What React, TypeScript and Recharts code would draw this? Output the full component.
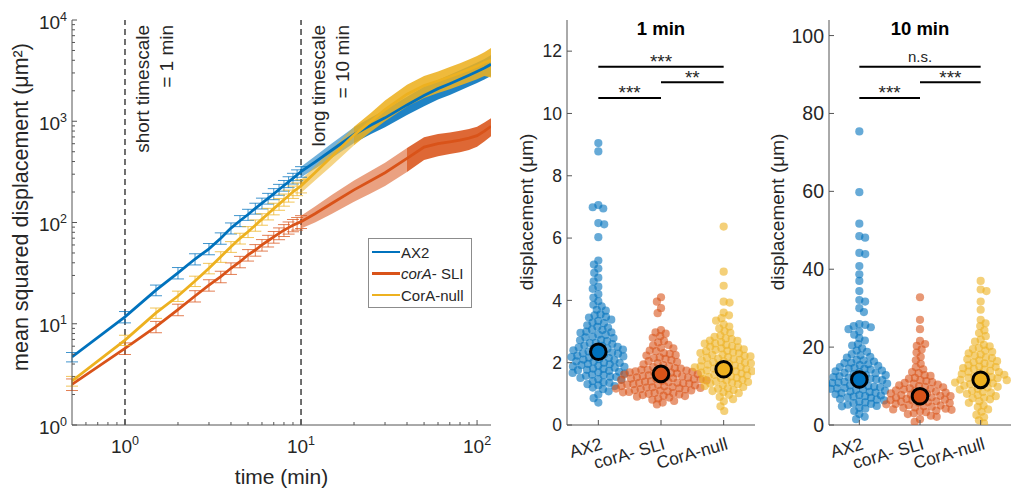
import React from 'react';
import {
  ComposedChart, ScatterChart, Line, Area, Scatter, XAxis, YAxis, ErrorBar,
  ReferenceLine, ReferenceDot, Legend,
} from 'recharts';

const FONT = '"Liberation Sans", Arial, Helvetica, sans-serif';
const TXT = '#262626';
const AXC = '#555555';
const BLUE = '#0072BD';
const RED = '#D95319';
const YEL = '#EDB120';
const seriesColors = [BLUE, RED, YEL];
const seriesRgb = ['0,114,189', '217,83,25', '237,177,32'];

// ---------------- MSD panel (log-log) ----------------
const msdTimes = [0.5, 1, 1.5, 2, 2.5, 3, 3.5, 4, 4.5, 5, 5.5, 6, 6.5, 7, 7.5, 8, 8.5, 9, 9.5, 10,
  12, 15, 20, 25, 30, 40, 50, 60, 70, 80, 90, 100, 110, 120];
const ax2Msd = [4.7, 11.7, 21.5, 31.8, 43.6, 55, 70, 88, 104, 120, 138, 155, 173, 192, 212, 232, 252, 273, 295, 318,
  395, 520, 740, 920, 1080, 1450, 1800, 2100, 2350, 2600, 2850, 3100, 3350, 3650];
const ax2Sem = [0.5, 1.5, 2.6, 4.1, 5.5, 7, 9, 11, 13, 15, 17, 19, 21, 24, 26, 28, 31, 33, 36, 38,
  55, 85, 130, 170, 210, 300, 390, 460, 530, 590, 650, 710, 770, 850];
const sliMsd = [2.52, 5.72, 9.35, 13.8, 18.8, 24.1, 29.2, 35.3, 41, 47.8, 53.5, 60, 66, 72, 78, 84, 89, 94, 98, 102,
  122, 155, 210, 260, 310, 430, 555, 600, 625, 650, 680, 720, 800, 890];
const sliSem = [0.33, 0.75, 1.2, 1.8, 2.4, 3.1, 3.8, 4.6, 5.3, 6.2, 7, 7.8, 8.7, 9.5, 10.4, 11.3, 12.2, 13, 13.9, 14.8,
  22, 33, 50, 65, 80, 115, 140, 150, 150, 155, 160, 160, 170, 180];
const nullMsd = [2.72, 6.9, 12.8, 18.8, 26.4, 35.3, 45.9, 57.7, 69.8, 81, 94, 108, 122, 137, 152, 168, 184, 201, 215, 230,
  310, 450, 730, 1000, 1300, 1850, 2250, 2500, 2750, 3000, 3250, 3500, 3800, 4000];
const nullSem = [0.3, 0.8, 1.5, 2.2, 3.1, 4.2, 5.5, 7, 8.5, 10, 12, 14, 16, 18, 20, 23, 25, 28, 31, 34,
  50, 85, 150, 210, 300, 450, 550, 600, 680, 750, 820, 900, 1000, 1300];
// time from which the dense error bars merge into a solid band
const solidFrom = [20, 40, 20];

const msdSeries = [
  { key: 'ax2', mean: ax2Msd, sem: ax2Sem },
  { key: 'sli', mean: sliMsd, sem: sliSem },
  { key: 'nul', mean: nullMsd, sem: nullSem },
];
const legendLabels = ['AX2', 'corA- SLI', 'CorA-null'];
const timescaleLines = [
  { t: 1, text: ['short timescale', '= 1 min'] },
  { t: 10, text: ['long timescale', '= 10 min'] },
];

const msdDecades = [1, 10, 100, 1000];
const msdMult = [1, 2, 3, 4, 5, 6, 7, 8, 9];
const msdYTicks = [...msdDecades.flatMap((d) => msdMult.map((m) => m * d)), 10000];
const msdXTicks = [0.6, 0.7, 0.8, 0.9, ...[1, 10].flatMap((d) => msdMult.map((m) => m * d)), 100];

const msdRows = msdTimes.map((t, i) => {
  const row: any = { t };
  msdSeries.forEach((s, k) => {
    const lo = s.mean[i] - s.sem[i];
    const hi = s.mean[i] + s.sem[i];
    row[s.key] = s.mean[i];
    row[s.key + 'Err'] = t <= 10 ? s.sem[i] : undefined;
    row[s.key + 'Light'] = t >= 10 && t <= solidFrom[k] ? [lo, hi] : null;
    row[s.key + 'Solid'] = t >= solidFrom[k] ? [lo, hi] : null;
  });
  return row;
});

// ---------------- swarm panels ----------------
const swarmCats = ['AX2', 'corA- SLI', 'CorA-null'];

const ax2OneMin = [9.05, 8.78, 7.06, 6.99, 6.95, 6.48, 6.44, 6.03, 5.28, 5.15, 5.02, 4.88, 4.73, 4.61, 4.44, 4.37, 4.2, 4.09,
  3.97, 3.86, 3.81, 3.7, 3.67, 3.55, 3.52, 3.47, 3.45, 3.38, 3.34, 3.29, 3.27, 3.2, 3.15, 3.13, 3.06, 3.05, 3.0,
  2.97, 2.96, 2.9, 2.89, 2.83, 2.81, 2.79, 2.73, 2.72, 2.69, 2.64, 2.63, 2.6, 2.55, 2.54, 2.51, 2.49, 2.46, 2.45,
  2.42, 2.4, 2.37, 2.36, 2.33, 2.3, 2.29, 2.27, 2.24, 2.23, 2.2, 2.18, 2.16, 2.15, 2.11, 2.1, 2.08, 2.04, 2.03,
  2.0, 1.99, 1.96, 1.95, 1.92, 1.9, 1.88, 1.87, 1.84, 1.81, 1.8, 1.77, 1.76, 1.74, 1.71, 1.69, 1.67, 1.65, 1.62,
  1.6, 1.58, 1.55, 1.54, 1.51, 1.47, 1.45, 1.41, 1.37, 1.35, 1.31, 1.27, 1.25, 1.2, 1.15, 1.08, 0.98, 0.86, 0.72];
const sliOneMin = [4.1, 3.96, 3.75, 3.59, 3.05, 2.97, 2.93, 2.85, 2.8, 2.7, 2.65, 2.57, 2.55, 2.48, 2.46, 2.39, 2.37,
  2.31, 2.28, 2.24, 2.23, 2.17, 2.15, 2.12, 2.08, 2.05, 2.02, 1.99, 1.95, 1.92, 1.89, 1.86, 1.83, 1.81,
  1.79, 1.78, 1.77, 1.75, 1.74, 1.72, 1.71, 1.69, 1.68, 1.66, 1.65, 1.63, 1.62, 1.61, 1.59, 1.57, 1.56,
  1.55, 1.53, 1.52, 1.5, 1.49, 1.48, 1.47, 1.46, 1.45, 1.43, 1.42, 1.4, 1.39, 1.37, 1.36, 1.35, 1.34, 1.33, 1.31,
  1.3, 1.28, 1.27, 1.25, 1.24, 1.22, 1.21, 1.2, 1.19, 1.18, 1.17, 1.15, 1.14, 1.12, 1.11, 1.1, 1.08, 1.06, 1.05,
  1.03, 1.02, 1.0, 0.98, 0.96, 0.94, 0.93, 0.91, 0.88, 0.85, 0.81, 0.77, 0.72, 0.66];
const nullOneMin = [6.37, 4.92, 4.47, 3.96, 3.93, 3.61, 3.52, 3.43, 3.35, 3.23, 3.16, 3.1, 3.01, 2.96, 2.87, 2.83, 2.78,
  2.76, 2.71, 2.7, 2.66, 2.62, 2.61, 2.57, 2.53, 2.51, 2.49, 2.46, 2.43, 2.41, 2.38, 2.37, 2.33, 2.31, 2.3, 2.26,
  2.25, 2.22, 2.2, 2.18, 2.16, 2.13, 2.11, 2.09, 2.07, 2.04, 2.02, 2.0, 1.98, 1.96, 1.94, 1.92, 1.91, 1.88, 1.86,
  1.85, 1.82, 1.81, 1.79, 1.77, 1.75, 1.73, 1.72, 1.69, 1.68, 1.65, 1.63, 1.61, 1.59, 1.56, 1.54, 1.51, 1.5, 1.47,
  1.45, 1.43, 1.4, 1.38, 1.36, 1.33, 1.31, 1.28, 1.25, 1.22, 1.18, 1.16, 1.12, 1.09, 1.05, 1.02, 0.97, 0.9, 0.83,
  0.76, 0.6, 0.45];
const ax2TenMin = [75.4, 59.8, 51.7, 48.5, 48.1, 44.2, 43.9, 40.8, 38.7, 37.0, 34.4, 32.1, 31.7, 30.0, 29.0, 25.9, 25.7,
  25.4, 25.1, 24.6, 24.0, 23.2, 22.3, 21.7, 20.8, 20.4, 19.7, 19.1, 18.8, 18.2, 17.9, 17.5, 17.3, 16.7, 16.6, 16.3,
  16.0, 15.9, 15.6, 15.4, 15.2, 14.9, 14.7, 14.5, 14.4, 14.2, 14.0, 13.8, 13.6, 13.4, 13.3, 13.0, 12.9, 12.8, 12.5,
  12.3, 12.2, 12.0, 11.9, 11.7, 11.5, 11.4, 11.2, 11.1, 10.9, 10.8, 10.6, 10.5, 10.3, 10.2, 10.0, 9.8, 9.7, 9.5,
  9.4, 9.3, 9.1, 9.0, 8.8, 8.6, 8.5, 8.3, 8.2, 7.9, 7.7, 7.6, 7.4, 7.3, 7.1, 7.0, 6.7, 6.5, 6.3, 6.0, 5.8, 5.6, 5.4,
  5.2, 4.9, 4.8, 4.4, 4.2, 3.6, 2.8, 2.1, 1.5];
const sliTenMin = [32.8, 27.0, 24.6, 21.6, 20.8, 20.3, 19.4, 18.6, 17.5, 16.6, 15.7, 14.8, 14.3, 13.6, 13.3, 12.8, 12.6,
  12.1, 11.9, 11.5, 11.3, 11.0, 10.8, 10.6, 10.4, 10.2, 10.0, 9.8, 9.7, 9.4, 9.3, 9.1, 8.9, 8.8, 8.6, 8.4, 8.3, 8.1,
  8.0, 7.8, 7.7, 7.5, 7.4, 7.2, 7.1, 7.0, 6.8, 6.7, 6.5, 6.4, 6.3, 6.1, 6.0, 5.9, 5.7, 5.6, 5.4, 5.3, 5.1, 5.0, 4.8,
  4.7, 4.5, 4.4, 4.2, 4.0, 3.9, 3.7, 3.5, 3.3, 3.0, 2.8, 2.4, 2.1, 1.5, 0.8];
const nullTenMin = [37.0, 34.8, 34.4, 31.7, 29.6, 27.0, 26.1, 25.4, 24.3, 23.6, 22.8, 21.9, 21.4, 20.6, 20.2, 19.8, 19.5,
  19.1, 18.8, 18.4, 18.1, 17.8, 17.4, 17.2, 16.9, 16.6, 16.4, 16.1, 15.8, 15.6, 15.3, 15.0, 14.9, 14.6, 14.4, 14.2,
  13.9, 13.7, 13.6, 13.3, 13.1, 12.9, 12.7, 12.5, 12.3, 12.1, 12.0, 11.8, 11.6, 11.5, 11.2, 11.0, 10.9, 10.7, 10.5,
  10.3, 10.1, 9.8, 9.6, 9.3, 9.1, 8.8, 8.5, 8.3, 8.0, 7.7, 7.4, 7.0, 6.9, 6.6, 6.1, 5.7, 5.0, 4.6, 4.0, 3.4, 2.6,
  2.0, 1.2, 0.4];

const oneMinMeans = [2.35, 1.64, 1.79];
const tenMinMeans = [11.7, 7.4, 11.6];
const oneMinSig = [
  { from: 1, to: 2, y: 10.5, label: '***' },
  { from: 2, to: 3, y: 11.0, label: '**' },
  { from: 1, to: 3, y: 11.5, label: '***' },
];
const tenMinSig = [
  { from: 1, to: 2, y: 84, label: '***' },
  { from: 2, to: 3, y: 88, label: '***' },
  { from: 1, to: 3, y: 92, label: 'n.s.' },
];
const oneMinTicks = [0, 2, 4, 6, 8, 10, 12];
const tenMinTicks = [0, 20, 40, 60, 80, 100];

// ---------------- layout ----------------
const H = 491;
const PLOT_TOP = 20;
const PLOT_BOTTOM = 425;
const MSD_LEFT = 72;
const MSD_RIGHT = 491;
const SWARM_D = 6;

const isMajor = (v: number) => Math.abs(Math.log10(v) - Math.round(Math.log10(v))) < 1e-9;

function beeswarm(values: number[], pxPerY: number, d: number): number[] {
  const pts: { x: number; y: number }[] = [];
  return values.map((v, i) => {
    const y = v * pxPerY;
    const near = pts.filter((p) => Math.abs(p.y - y) < d);
    const cands = [0];
    near.forEach((p) => {
      const w = Math.sqrt(d * d - (p.y - y) * (p.y - y));
      cands.push(p.x + w, p.x - w);
    });
    const sgn = i % 2 === 0 ? 1 : -1;
    cands.sort((a, b) => Math.abs(a) - Math.abs(b) || sgn * (b - a));
    let x = 0;
    for (const c of cands) {
      if (near.every((p) => (p.x - c) * (p.x - c) + (p.y - y) * (p.y - y) >= d * d - 1e-6)) { x = c; break; }
    }
    pts.push({ x, y });
    return x;
  });
}

const MsdYTick = (p: any) => {
  const v = p.payload.value;
  const y = p.y;
  const major = isMajor(v);
  return (
    <g>
      <line x1={MSD_LEFT} x2={MSD_LEFT + (major ? 5 : 3)} y1={y} y2={y} stroke={AXC} />
      {major && (
        <text x={MSD_LEFT - 5} y={y + 8.5} textAnchor="end" fontSize={19} fill={TXT} fontFamily={FONT}>
          10<tspan dy={-8} fontSize={12.5}>{Math.round(Math.log10(v))}</tspan>
        </text>
      )}
    </g>
  );
};

const MsdXTick = (p: any) => {
  const v = p.payload.value;
  const x = p.x;
  const major = isMajor(v);
  return (
    <g>
      <line x1={x} x2={x} y1={PLOT_BOTTOM} y2={PLOT_BOTTOM - (major ? 5 : 3)} stroke={AXC} />
      {major && (
        <text x={x} y={453} textAnchor="middle" fontSize={19} fill={TXT} fontFamily={FONT}>
          10<tspan dy={-8} fontSize={12.5}>{Math.round(Math.log10(v))}</tspan>
        </text>
      )}
    </g>
  );
};

const TimescaleLabel = (lines: string[]) => (p: any) => {
  const vb = p.viewBox || {};
  return (
    <g>
      {lines.map((s, i) => (
        <text key={i} transform={`translate(${vb.x + 24 * (i + 1)}, ${vb.y + 5}) rotate(-90)`}
          textAnchor="end" fontSize={19} fill={TXT} fontFamily={FONT}>{s}</text>
      ))}
    </g>
  );
};

const LegendBox = () => (
  <div style={{
    position: 'relative', width: 104, height: 70, border: '1px solid #8c8c8c', background: '#fff',
    boxSizing: 'border-box', fontFamily: FONT, fontSize: 15, color: TXT,
  }}>
    {legendLabels.map((lab, i) => (
      <div key={i} style={{
        position: 'absolute', left: 3, top: 13 + 21.6 * i - 10, height: 20,
        display: 'flex', alignItems: 'center', whiteSpace: 'nowrap',
      }}>
        <span style={{ display: 'inline-block', width: 28, height: 2.5, background: seriesColors[i] }} />
        <span style={{ marginLeft: 1 }}>
          {i === 1 ? (<><i>corA</i>- SLI</>) : lab}
        </span>
      </div>
    ))}
  </div>
);

function MsdPanel() {
  return (
    <ComposedChart width={520} height={H} data={msdRows}
      margin={{ top: PLOT_TOP, right: 520 - MSD_RIGHT, bottom: 0, left: 0 }}>
      <XAxis dataKey="t" type="number" scale="log" domain={[0.5, 120]} allowDataOverflow ticks={msdXTicks}
        interval={0} height={H - PLOT_BOTTOM} tickLine={false} axisLine={{ stroke: AXC }} tick={MsdXTick}
        label={(lp: any) => (
          <text x={(MSD_LEFT + MSD_RIGHT) / 2} y={484} textAnchor="middle" fontSize={21} fill={TXT} fontFamily={FONT}>
            time (min)
          </text>
        )} />
      <YAxis type="number" scale="log" domain={[1, 10000]} allowDataOverflow ticks={msdYTicks} interval={0}
        width={MSD_LEFT} tickLine={false} axisLine={{ stroke: AXC }} tick={MsdYTick}
        label={(lp: any) => (
          <text transform={`translate(28, 207) rotate(-90)`} textAnchor="middle" fontSize={21.5} fill={TXT} fontFamily={FONT}>
            mean squared displacement (μm²)
          </text>
        )} />
      {timescaleLines.map((tl) => (
        <ReferenceLine key={tl.t} x={tl.t} stroke="#404040" strokeWidth={1.5} strokeDasharray="6 4"
          label={TimescaleLabel(tl.text)} />
      ))}
      {msdSeries.flatMap((s, i) => [
        <Area key={s.key + 'light'} dataKey={s.key + 'Light'} type="linear" stroke="none" fill={seriesColors[i]}
          fillOpacity={0.55} isAnimationActive={false} legendType="none" />,
        <Area key={s.key + 'solid'} dataKey={s.key + 'Solid'} type="linear" stroke="none" fill={seriesColors[i]}
          fillOpacity={0.88} isAnimationActive={false} legendType="none" />,
        <Line key={s.key + 'line'} dataKey={s.key} type="linear" stroke={seriesColors[i]} strokeWidth={2.8}
          dot={false} isAnimationActive={false}>
          <ErrorBar dataKey={s.key + 'Err'} width={6} strokeWidth={1} stroke={`rgba(${seriesRgb[i]},0.75)`} />
        </Line>,
      ])}
      <Legend layout="vertical" align="center" verticalAlign="middle" content={LegendBox}
        wrapperStyle={{ left: 368, top: 238, width: 104, height: 70 }} />
    </ComposedChart>
  );
}

const CatTick = (p: any) => {
  const x = p.x;
  const name = swarmCats[p.payload.value - 1];
  return (
    <g>
      <line x1={x} x2={x} y1={PLOT_BOTTOM} y2={PLOT_BOTTOM - 5} stroke={AXC} />
      <text transform={`translate(${x + 5}, 449) rotate(-16)`} textAnchor="end" fontSize={17.5} fill={TXT}
        fontFamily={FONT}>{name}</text>
    </g>
  );
};

type Sig = { from: number; to: number; y: number; label: string };

function SwarmPanel(props: {
  width: number; plotLeft: number; plotRight: number; yMax: number; yTicks: number[];
  values: number[][]; means: number[]; sig: Sig[]; title: string; tickFont: number; labelX: number;
}) {
  const { width, plotLeft, plotRight, yMax, yTicks, values, means, sig, title, tickFont, labelX } = props;
  const pxY = (PLOT_BOTTOM - PLOT_TOP) / yMax;
  const pxX = (plotRight - plotLeft) / 3;
  const sets = values.map((vals, g) => {
    const offs = beeswarm(vals, pxY, SWARM_D);
    return vals.map((v, i) => ({ x: g + 1 + offs[i] / pxX, y: v }));
  });
  const YTick = (p: any) => (
    <g>
      <line x1={plotLeft} x2={plotLeft + 5} y1={p.y} y2={p.y} stroke={AXC} />
      <text x={plotLeft - 5} y={p.y} dy="0.36em" textAnchor="end" fontSize={tickFont} fill={TXT}
        fontFamily={FONT}>{p.payload.value}</text>
    </g>
  );
  return (
    <ScatterChart width={width} height={H} margin={{ top: PLOT_TOP, right: width - plotRight, bottom: 0, left: 0 }}>
      <XAxis type="number" dataKey="x" domain={[0.5, 3.5]} allowDataOverflow ticks={[1, 2, 3]} interval={0}
        height={H - PLOT_BOTTOM} tickLine={false} axisLine={{ stroke: AXC }} tick={CatTick} />
      <YAxis type="number" dataKey="y" domain={[0, yMax]} allowDataOverflow ticks={yTicks} interval={0}
        width={plotLeft} tickLine={false} axisLine={{ stroke: AXC }} tick={YTick}
        label={(lp: any) => (
          <text transform={`translate(${labelX}, 212) rotate(-90)`} textAnchor="middle" fontSize={19} fill={TXT}
            fontFamily={FONT}>displacement (μm)</text>
        )} />
      {sets.map((pts, g) => (
        <Scatter key={'pts' + g} data={pts} isAnimationActive={false}
          shape={(sp: any) => <circle cx={sp.cx} cy={sp.cy} r={4.1} fill={seriesColors[g]} fillOpacity={0.6} />} />
      ))}
      {means.map((m, g) => (
        <Scatter key={'mean' + g} data={[{ x: g + 1, y: m }]} isAnimationActive={false}
          shape={(sp: any) => <circle cx={sp.cx} cy={sp.cy} r={7.8} fill={seriesColors[g]} stroke="#000" strokeWidth={3} />} />
      ))}
      {sig.map((s, i) => (
        <ReferenceLine key={'sl' + i} segment={[{ x: s.from, y: s.y }, { x: s.to, y: s.y }]} stroke="#000"
          strokeWidth={2} ifOverflow="visible" />
      ))}
      {sig.map((s, i) => (
        <ReferenceDot key={'st' + i} x={(s.from + s.to) / 2} y={s.y} r={0} ifOverflow="visible"
          shape={(dp: any) => (
            <text x={dp.cx} y={s.label === 'n.s.' ? dp.cy - 5 : dp.cy + 1.5} textAnchor="middle"
              fontSize={s.label === 'n.s.' ? 15 : 19} fill={TXT} fontFamily={FONT}>{s.label}</text>
          )} />
      ))}
      <ReferenceDot x={2} y={yMax} r={0} ifOverflow="visible"
        shape={(dp: any) => (
          <text x={dp.cx} y={dp.cy + 15} textAnchor="middle" fontSize={18.5} fontWeight="bold" fill="#000"
            fontFamily={FONT}>{title}</text>
        )} />
    </ScatterChart>
  );
}

export default function App() {
  return (
    <div style={{ position: 'absolute', left: 0, top: 0, width: 1015, height: H, background: '#fff', fontFamily: FONT }}>
      <div style={{ position: 'absolute', left: 0, top: 0 }}>
        <MsdPanel />
      </div>
      <div style={{ position: 'absolute', left: 505, top: 0 }}>
        <SwarmPanel width={265} plotLeft={62} plotRight={250} yMax={13} yTicks={oneMinTicks}
          values={[ax2OneMin, sliOneMin, nullOneMin]} means={oneMinMeans} sig={oneMinSig} title="1 min"
          tickFont={17.5} labelX={28} />
      </div>
      <div style={{ position: 'absolute', left: 760, top: 0 }}>
        <SwarmPanel width={255} plotLeft={69} plotRight={251} yMax={104} yTicks={tenMinTicks}
          values={[ax2TenMin, sliTenMin, nullTenMin]} means={tenMinMeans} sig={tenMinSig} title="10 min"
          tickFont={19.5} labelX={24} />
      </div>
    </div>
  );
}
